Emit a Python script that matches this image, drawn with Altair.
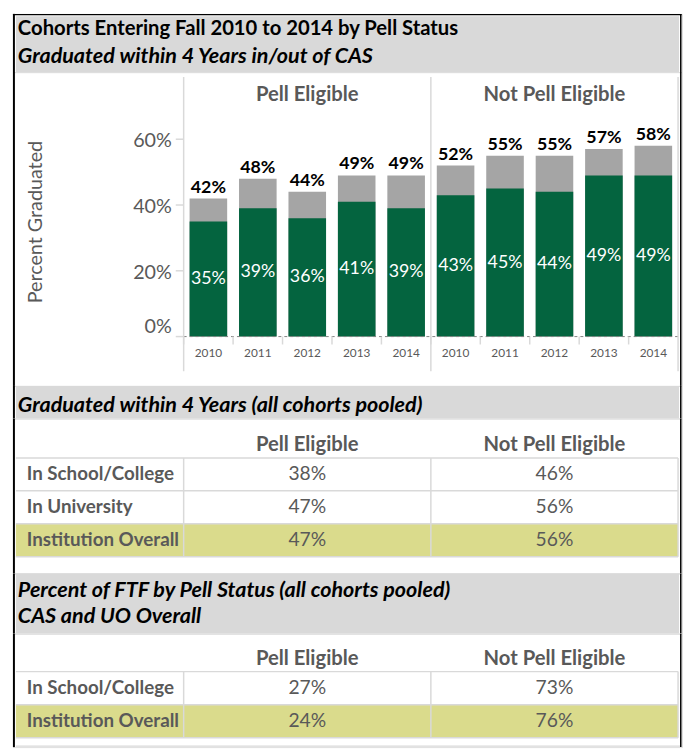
import altair as alt
import pandas as pd

# ---------------- data ----------------
years = ["2010", "2011", "2012", "2013", "2014"]
groups = ["Pell Eligible", "Not Pell Eligible"]
in_cas_pell = [35, 39, 36, 41, 39]
total_pell = [42, 48, 44, 49, 49]
in_cas_not = [43, 45, 44, 49, 49]
total_not = [52, 55, 55, 57, 58]

y_ticks = [0, 20, 40, 60]
y_tick_labels = ["0%", "20%", "40%", "60%"]

pooled_rows = ["In School/College", "In University", "Institution Overall"]
pooled_pell = [38, 47, 47]
pooled_not = [46, 56, 56]

ftf_rows = ["In School/College", "Institution Overall"]
ftf_pell = [27, 24]
ftf_not = [73, 76]

title1 = "Cohorts Entering Fall 2010 to 2014 by Pell Status"
title2 = "Graduated within 4 Years in/out of CAS"
title3 = "Graduated within 4 Years (all cohorts pooled)"
title4a = "Percent of FTF by Pell Status (all cohorts pooled)"
title4b = "CAS and UO Overall"
y_title = "Percent Graduated"

# ---------------- style ----------------
GREEN = "#04643F"
BARGREY = "#A5A5A5"
BAND = "#D9D9D9"
HILITE = "#DADB8C"
TXT = "#595959"
LINE = "#D9D9D9"
FONT = "Lato"
W = 678
X0, X1 = 173, 674

one = pd.DataFrame({"k": [0]})


def frame(h, top=False):
    base = alt.Chart(one)
    layers = [
        base.mark_rect(color="black").encode(
            x=alt.value(0), x2=alt.value(2), y=alt.value(0), y2=alt.value(h)),
        base.mark_rect(color="black").encode(
            x=alt.value(676), x2=alt.value(677.5), y=alt.value(0), y2=alt.value(h)),
    ]
    if top:
        layers.append(base.mark_rect(color="black").encode(
            x=alt.value(0), x2=alt.value(677.5), y=alt.value(0), y2=alt.value(1.5)))
    return layers


def band(y0, y1):
    return alt.Chart(one).mark_rect(color=BAND).encode(
        x=alt.value(3), x2=alt.value(675), y=alt.value(y0), y2=alt.value(y1))


def label(text, y, italic=True, bold=True, size=21.8):
    return alt.Chart(one).mark_text(
        text=text, align="left", baseline="middle", font=FONT, fontSize=size,
        fontWeight="bold" if bold else "normal",
        fontStyle="italic" if italic else "normal", color="black").encode(
        x=alt.value(5), y=alt.value(y))


# ---------------- section A: header ----------------
hA = 59
secA = alt.layer(
    band(2.5, hA),
    label(title1, 15, italic=False, size=20.5),
    label(title2, 43),
    *frame(hA, top=True),
).properties(width=W, height=hA)

# ---------------- section B: bars ----------------
hB = 318
rows = []
for g, inc, tot in [("Pell Eligible", in_cas_pell, total_pell),
                    ("Not Pell Eligible", in_cas_not, total_not)]:
    for y, a, t in zip(years, inc, tot):
        rows.append({"slot": f"{g}|{y}", "group": g, "year": y,
                     "in_cas": a, "total": t})
bars = pd.DataFrame(rows)
slot_order = [f"{g}|{y}" for g in groups for y in years]

xscale = alt.Scale(domain=slot_order, range=[X0, X1], paddingInner=0, paddingOuter=0)
yscale = alt.Scale(domain=[-15, 80.4], nice=False, zero=False)


def X(**kw):
    return alt.X("slot:N", sort=slot_order, scale=xscale, axis=None, **kw)


def Y(field):
    return alt.Y(field, scale=yscale, axis=None)


base_b = alt.Chart(bars).transform_calculate(
    tlabel="datum.total + '%'", ilabel="datum.in_cas + '%'", mid="datum.in_cas / 2")

grey_bars = base_b.mark_bar(color=BARGREY, width={"band": 0.76}).encode(
    x=X(), y=Y("total:Q"), y2=alt.Y2(datum=0))
green_bars = base_b.mark_bar(color=GREEN, width={"band": 0.76}).encode(
    x=X(), y=Y("in_cas:Q"), y2=alt.Y2(datum=0))
tot_text = base_b.mark_text(font=FONT, fontSize=18, fontWeight="bold", color="black",
                            baseline="alphabetic", dy=-6).encode(
    x=X(), y=Y("total:Q"), text="tlabel:N")
in_text = base_b.mark_text(font=FONT, fontSize=18, color="white", baseline="middle").encode(
    x=X(), y=Y("mid:Q"), text="ilabel:N")

# x "axis": year labels, ticks at band edges, dashed baseline
year_text = base_b.mark_text(font=FONT, fontSize=12, color=TXT, baseline="middle").encode(
    x=X(), y=alt.value(285), text="year:N")
x_ticks = base_b.mark_rule(color=LINE, strokeWidth=1.5).encode(
    x=X(bandPosition=0), y=alt.value(268), y2=alt.value(276))
baseline = alt.Chart(one).mark_rule(color="#808080", strokeWidth=1, strokeDash=[3, 3]).encode(
    x=alt.value(X0), x2=alt.value(X1), y=alt.Y(datum=0, scale=yscale, axis=None))

# y "axis": tick labels, tick marks, title
ydf = pd.DataFrame({"v": y_ticks, "lbl": y_tick_labels})
y_lab_hi = alt.Chart(ydf).transform_filter("datum.v > 0").mark_text(
    font=FONT, fontSize=20, color=TXT, align="right", baseline="middle", dy=2).encode(
    x=alt.value(161), y=Y("v:Q"), text="lbl:N")
y_lab_zero = alt.Chart(ydf).transform_filter("datum.v == 0").mark_text(
    font=FONT, fontSize=20, color=TXT, align="right", baseline="alphabetic", dy=-4).encode(
    x=alt.value(161), y=Y("v:Q"), text="lbl:N")
y_tick_marks = alt.Chart(ydf).mark_rule(color=LINE, strokeWidth=1.5).encode(
    x=alt.value(165), x2=alt.value(X0), y=Y("v:Q"))
y_title_mark = alt.Chart(one).mark_text(
    text=y_title, font=FONT, fontSize=20, color=TXT, angle=270,
    align="center", baseline="middle").encode(x=alt.value(23), y=alt.value(152))

panel_df = pd.DataFrame({"slot": [f"{g}|2012" for g in groups], "group": groups})
panel_text = alt.Chart(panel_df).mark_text(font=FONT, fontSize=20.5, fontWeight="bold",
                                           color=TXT, baseline="middle").encode(
    x=X(), y=alt.value(23), text="group:N")

div_df = pd.DataFrame({"slot": [f"{g}|2010" for g in groups]})
dividers = alt.Chart(div_df).mark_rule(color=LINE, strokeWidth=1.5).encode(
    x=X(bandPosition=0), y=alt.value(5), y2=alt.value(303))
right_div = alt.Chart(one).mark_rule(color=LINE, strokeWidth=1.5).encode(
    x=alt.value(X1), y=alt.value(5), y2=alt.value(303))

secB = alt.layer(
    grey_bars, green_bars, baseline, x_ticks, tot_text, in_text, year_text,
    y_lab_hi, y_lab_zero, y_tick_marks, y_title_mark, panel_text, dividers, right_div,
    *frame(hB),
).properties(width=W, height=hB)

# ---------------- section C: pooled title ----------------
hC = 33
secC = alt.layer(band(0, hC), label(title3, 19), *frame(hC)).properties(width=W, height=hC)


# ---------------- tables ----------------
def table(row_names, pell_vals, not_vals, h, y0, y1, header_y, bottom_line=None):
    recs = []
    for r, p, n in zip(row_names, pell_vals, not_vals):
        recs.append({"row": r, "col": groups[0], "value": p})
        recs.append({"row": r, "col": groups[1], "value": n})
    df = pd.DataFrame(recs)
    tx = alt.Scale(domain=groups, range=[X0, X1], paddingInner=0, paddingOuter=0)
    ty = alt.Scale(domain=row_names, range=[y0, y1], paddingInner=0, paddingOuter=0)

    def TX(**kw):
        return alt.X("col:N", scale=tx, axis=None, **kw)

    def TY(**kw):
        return alt.Y("row:N", scale=ty, axis=None, **kw)

    base = alt.Chart(df)
    rowdf = pd.DataFrame({"row": row_names})
    coldf = pd.DataFrame({"col": groups})
    layers = [
        alt.Chart(rowdf).transform_filter("datum.row == 'Institution Overall'")
        .mark_rect(color=HILITE).encode(y=TY(), x=alt.value(3), x2=alt.value(X1)),
        alt.Chart(rowdf).mark_rule(color=LINE, strokeWidth=1.5).encode(
            y=TY(bandPosition=0), x=alt.value(3), x2=alt.value(X1)),
        alt.Chart(rowdf).transform_filter(f"datum.row == '{row_names[-1]}'")
        .mark_rule(color=LINE, strokeWidth=1.5).encode(
            y=TY(bandPosition=1), x=alt.value(3), x2=alt.value(X1)),
        alt.Chart(coldf).mark_rule(color=LINE, strokeWidth=1.5).encode(
            x=TX(bandPosition=0), y=alt.value(y0), y2=alt.value(y1)),
        alt.Chart(one).mark_rule(color=LINE, strokeWidth=1.5).encode(
            x=alt.value(X1), y=alt.value(y0), y2=alt.value(y1)),
        alt.Chart(coldf).mark_text(font=FONT, fontSize=20.5, fontWeight="bold", color=TXT,
                                   baseline="middle").encode(
            x=TX(), y=alt.value(header_y), text="col:N"),
        alt.Chart(rowdf).mark_text(font=FONT, fontSize=19, fontWeight="bold", color=TXT,
                                   align="left", baseline="middle").encode(
            x=alt.value(14), y=TY(), text="row:N"),
        base.transform_calculate(lbl="datum.value + '%'").mark_text(
            font=FONT, fontSize=19.5, color=TXT, baseline="middle").encode(
            x=TX(), y=TY(), text="lbl:N"),
    ]
    if bottom_line is not None:
        layers.append(alt.Chart(one).mark_rule(color=LINE, strokeWidth=1.5).encode(
            x=alt.value(3), x2=alt.value(676), y=alt.value(bottom_line)))
    return alt.layer(*layers, *frame(h)).properties(width=W, height=h)


hD = 157
secD = table(pooled_rows, pooled_pell, pooled_not, hD, 40, 140, 27)

hE = 61
secE = alt.layer(band(0, hE), label(title4a, 17), label(title4b, 43), *frame(hE)).properties(
    width=W, height=hE)

hF = 115
secF = table(ftf_rows, ftf_pell, ftf_not, hF, 38.5, 105.5, 26, bottom_line=114)

chart = alt.vconcat(
    secA, secB, secC, secD, secE, secF, spacing=0, bounds="flush",
    padding={"left": 4, "top": 0, "right": 0, "bottom": 0},
).configure_view(stroke=None).configure(font=FONT, background="white")

chart.save("out.html", embed_options={"renderer": "svg", "actions": False})
